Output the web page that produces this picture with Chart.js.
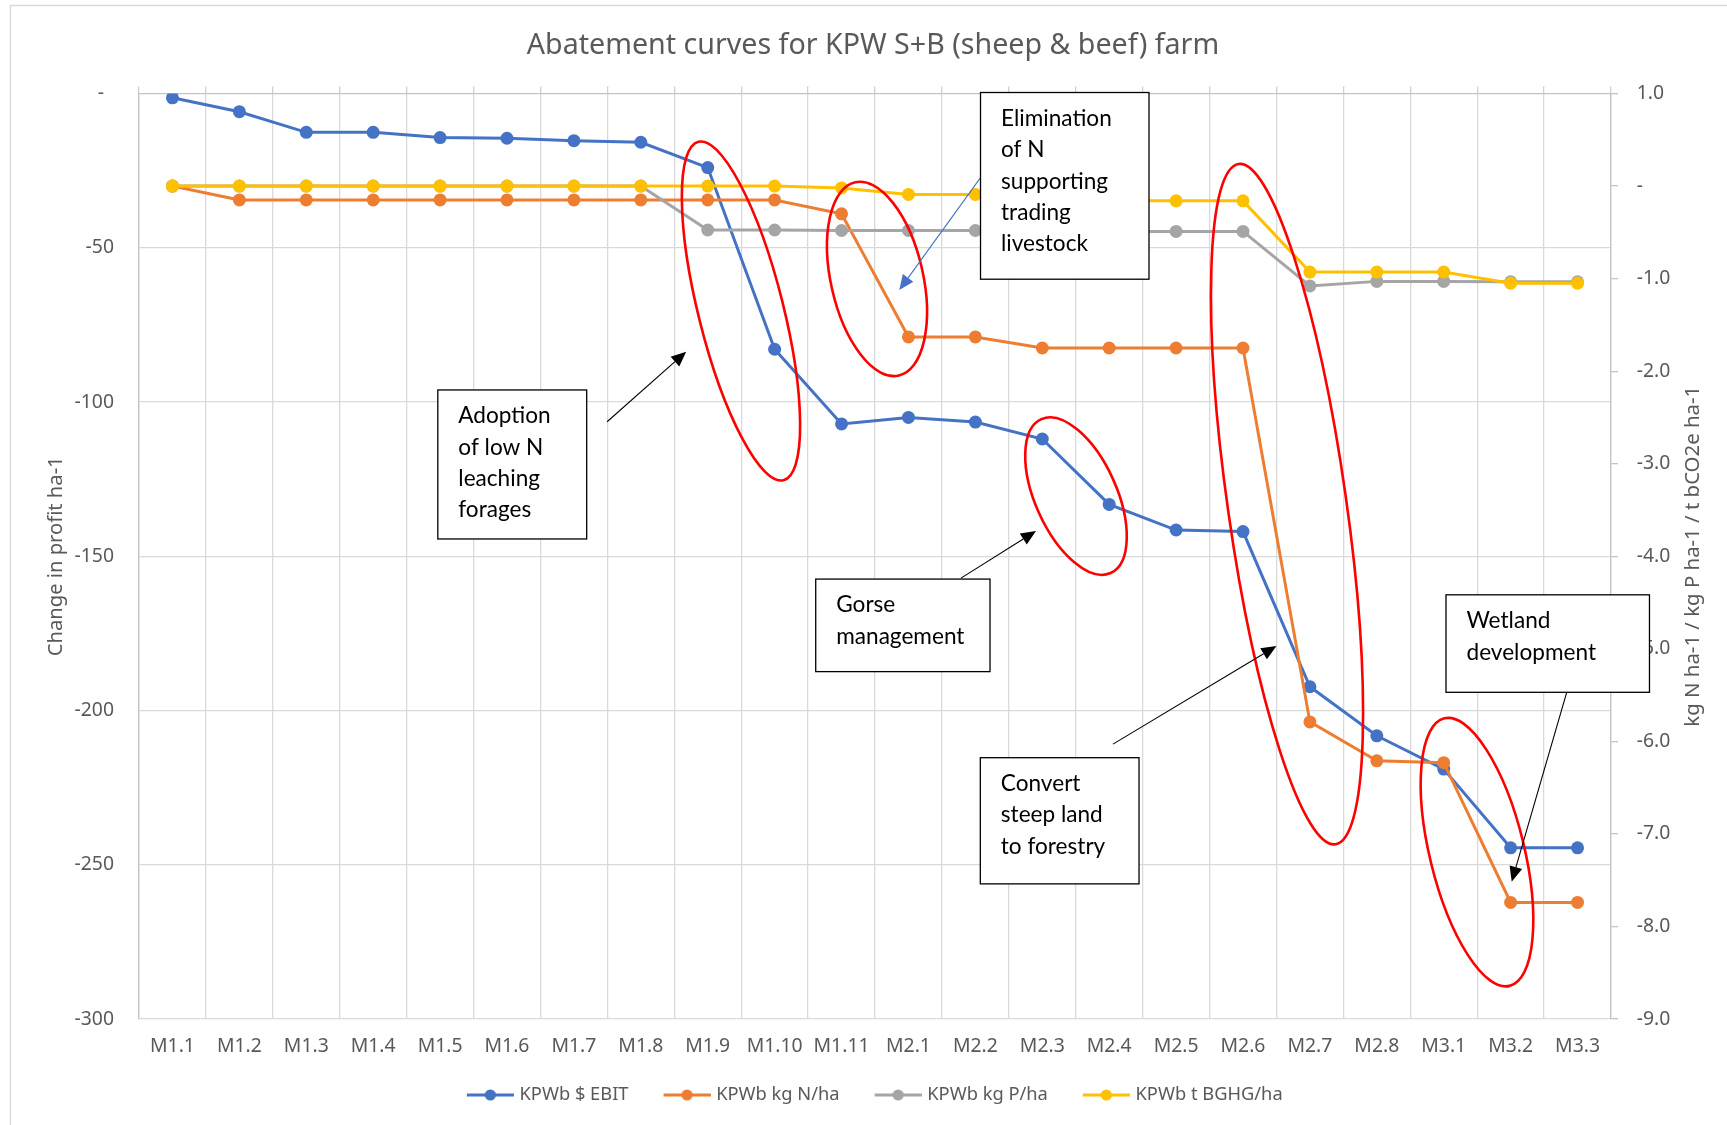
<!DOCTYPE html>
<html>
<head>
<meta charset="utf-8">
<script src="https://cdn.jsdelivr.net/npm/chart.js@4.4.1/dist/chart.umd.min.js"></script>
<style>
html,body{margin:0;padding:0;background:#ffffff;}
canvas{display:block;}
</style>
</head>
<body>
<canvas id="c" width="1727" height="1125"></canvas>
<script>
// ---------------- DATA ----------------
const categories = ['M1.1','M1.2','M1.3','M1.4','M1.5','M1.6','M1.7','M1.8','M1.9','M1.10','M1.11',
                    'M2.1','M2.2','M2.3','M2.4','M2.5','M2.6','M2.7','M2.8','M3.1','M3.2','M3.3'];
const ebit       = [-1.4, -5.9, -12.6, -12.6, -14.3, -14.5, -15.3, -15.8, -24.0, -82.9, -107.1,
                    -105.0, -106.5, -112.0, -133.2, -141.5, -142.0, -192.3, -208.2, -219.0, -244.5, -244.5];
const nitrogen   = [0, -0.15, -0.15, -0.15, -0.15, -0.15, -0.15, -0.15, -0.15, -0.15, -0.30,
                    -1.63, -1.63, -1.75, -1.75, -1.75, -1.75, -5.79, -6.21, -6.23, -7.74, -7.74];
const phosphorus = [0, 0, 0, 0, 0, 0, 0, 0, -0.475, -0.475, -0.48,
                    -0.48, -0.48, -0.49, -0.49, -0.49, -0.49, -1.08, -1.03, -1.03, -1.035, -1.035];
const ghg        = [0, 0, 0, 0, 0, 0, 0, 0, 0, 0, -0.02,
                    -0.09, -0.09, -0.12, -0.16, -0.16, -0.16, -0.93, -0.93, -0.93, -1.05, -1.05];
const seriesNames = ['KPWb $ EBIT', 'KPWb kg N/ha', 'KPWb kg P/ha', 'KPWb t BGHG/ha'];
const titleText = 'Abatement curves for KPW S+B (sheep & beef) farm';
const leftAxisTitle = 'Change in profit ha-1';
const rightAxisTitle = 'kg N ha-1 / kg P ha-1 / t bCO2e ha-1';
const leftTickLabel = v => (v === 0 ? '-  ' : String(v));
const rightTickLabel = v => (v === 0 ? '-' : v.toFixed(1));

// ---------------- ANNOTATIONS (positions in data units: category index, left-axis value) ----------------
const noteBoxes = [
  {lines: ['Adoption', 'of low N', 'leaching', 'forages'], from: [3.966, -96.1], to: [6.191, -144.4]},
  {lines: ['Elimination', 'of N', 'supporting', 'trading', 'livestock'], from: [12.077, 0.32], to: [14.595, -60.2]},
  {lines: ['Gorse', 'management'], from: [9.614, -157.4], to: [12.219, -187.4]},
  {lines: ['Convert', 'steep land', 'to forestry'], from: [12.074, -215.3], to: [14.446, -256.2]},
  {lines: ['Wetland', 'development'], from: [19.034, -162.5], to: [22.075, -194.1]}
];
const noteEllipses = [
  {at: [8.497, -70.5],  rx: 42.4, ry: 174.5, rot: -14.1},
  {at: [10.530, -60.1], rx: 46.1, ry: 99.1,  rot: -12.7},
  {at: [13.504, -130.5], rx: 40.7, ry: 84.4, rot: -24.25},
  {at: [16.658, -133.1], rx: 59.2, ry: 343.6, rot: -8.1},
  {at: [19.497, -245.9], rx: 47.2, ry: 137.7, rot: -13.7}
];
const noteArrows = [
  {from: [6.496, -106.4], to: [7.678, -83.7], color: '#000000'},
  {from: [12.080, -27.2], to: [10.863, -63.7], color: '#4472C4'},
  {from: [11.785, -157.1], to: [12.906, -141.8], color: '#000000'},
  {from: [14.057, -210.9], to: [16.5, -179.1], color: '#000000'},
  {from: [20.838, -194.1], to: [20.016, -255.5], color: '#000000'}
];

// ---------------- STYLE / FONT FITTING ----------------
const colors = ['#4472C4', '#ED7D31', '#A5A5A5', '#FFC000'];
const mctx = document.createElement('canvas').getContext('2d');
function fitSize(text, family, target) {
  mctx.font = '100px ' + family;
  return 100 * target / mctx.measureText(text).width;
}
const UI = '"Noto Sans"';
const tickFs = fitSize('M1.10', UI, 56);
const legendFs = fitSize(seriesNames.join(''), UI, 500.4);
const titleFs = fitSize(titleText, UI, 692.6);
const axisFs = fitSize(leftAxisTitle, UI, 200);
const axis2Fs = fitSize(rightAxisTitle, UI, 341);
const noteFs = fitSize('management', 'Lato', 128.3);

Chart.defaults.font.family = '"Noto Sans", sans-serif';
Chart.defaults.color = '#595959';

const titleLh = titleFs * 1.2;
const titlePadTop = 46 - titleLh / 2;
const titlePadBottom = 85.5 - titleLh - titlePadTop;
const legendPad = 31.5;
const bottomPad = 20 - legendFs / 2;
const xAxisH = 76 - legendPad - legendFs / 2;
const xTickPad = 1046.3 - 1019 - tickFs * 1.2 / 2;
const yTitlePad = 56 - 19 - axisFs * 1.2 / 2;

// legend icon geometry: line with centred marker, small gap before text, wider gap between items
const iconLine = 47, iconTextGap = 5.7, iconExtraGap = 3.5;
const legendBoxW = iconLine + iconTextGap + iconExtraGap - legendFs / 2;
const iconOver = Math.max(legendFs / 2 - iconTextGap, 0);
function legendIcon(color) {
  const c = document.createElement('canvas');
  c.width = Math.ceil(legendBoxW + 2 * iconOver); c.height = 14;
  const g = c.getContext('2d');
  const x0 = (c.width - legendBoxW) / 2 + iconExtraGap;
  g.strokeStyle = color; g.lineWidth = 3;
  g.beginPath(); g.moveTo(x0, 7); g.lineTo(x0 + iconLine, 7); g.stroke();
  g.fillStyle = color;
  g.beginPath(); g.arc(x0 + iconLine / 2, 7, 5.6, 0, Math.PI * 2); g.fill();
  return c;
}
const legendIcons = colors.map(legendIcon);

const framePlugin = {
  id: 'frame',
  beforeDraw(chart) {
    const ctx = chart.ctx;
    ctx.save();
    ctx.strokeStyle = '#d9d9d9';
    ctx.lineWidth = 1.3;
    ctx.beginPath();
    ctx.moveTo(10.5, chart.height + 5);
    ctx.lineTo(10.5, 5.5);
    ctx.lineTo(chart.width + 5, 5.5);
    ctx.stroke();
    ctx.restore();
  }
};

const notesPlugin = {
  id: 'notes',
  afterDraw(chart) {
    const ctx = chart.ctx;
    const xs = chart.scales.x, ys = chart.scales.y, ys2 = chart.scales.y2;
    const px = i => xs.getPixelForValue(i);
    const py = v => ys.getPixelForValue(v);
    ctx.save();
    // right axis title (reads bottom-to-top)
    ctx.fillStyle = '#595959';
    ctx.font = axis2Fs + 'px "Noto Sans"';
    ctx.textAlign = 'center';
    ctx.textBaseline = 'middle';
    ctx.translate(ys2.right - 33.5, (chart.chartArea.top + chart.chartArea.bottom) / 2);
    ctx.rotate(-Math.PI / 2);
    ctx.fillText(rightAxisTitle, 0, 0);
    ctx.restore();

    ctx.save();
    noteEllipses.forEach(e => {
      ctx.beginPath();
      ctx.ellipse(px(e.at[0]), py(e.at[1]), e.rx, e.ry, e.rot * Math.PI / 180, 0, Math.PI * 2);
      ctx.strokeStyle = '#FF0000';
      ctx.lineWidth = 2.6;
      ctx.stroke();
    });
    noteArrows.forEach(a => {
      const x1 = px(a.from[0]), y1 = py(a.from[1]), x2 = px(a.to[0]), y2 = py(a.to[1]);
      const ang = Math.atan2(y2 - y1, x2 - x1);
      const L = 15, W = 6.5;
      const bx = x2 - L * Math.cos(ang), by = y2 - L * Math.sin(ang);
      ctx.strokeStyle = a.color; ctx.lineWidth = 1.1;
      ctx.beginPath(); ctx.moveTo(x1, y1); ctx.lineTo(bx, by); ctx.stroke();
      ctx.fillStyle = a.color;
      ctx.beginPath();
      ctx.moveTo(x2, y2);
      ctx.lineTo(bx - W * Math.sin(ang), by + W * Math.cos(ang));
      ctx.lineTo(bx + W * Math.sin(ang), by - W * Math.cos(ang));
      ctx.closePath(); ctx.fill();
    });
    noteBoxes.forEach(n => {
      const x1 = px(n.from[0]), y1 = py(n.from[1]), x2 = px(n.to[0]), y2 = py(n.to[1]);
      ctx.fillStyle = '#ffffff';
      ctx.fillRect(x1, y1, x2 - x1, y2 - y1);
      ctx.strokeStyle = '#000000'; ctx.lineWidth = 1.3;
      ctx.strokeRect(x1, y1, x2 - x1, y2 - y1);
      ctx.fillStyle = '#000000';
      ctx.font = noteFs + 'px Lato';
      ctx.textAlign = 'left';
      ctx.textBaseline = 'middle';
      n.lines.forEach((t, k) => ctx.fillText(t, x1 + 20.5, y1 + 26 + k * 31.4));
    });
    ctx.restore();
  }
};

const series = [ebit, nitrogen, phosphorus, ghg];
const datasets = series.map((d, i) => ({
  label: seriesNames[i],
  data: d,
  xAxisID: 'x',
  yAxisID: i === 0 ? 'y' : 'y2',
  borderColor: colors[i],
  backgroundColor: colors[i],
  borderWidth: 3,
  pointRadius: 6.5,
  pointHoverRadius: 6.5,
  pointBorderWidth: 0,
  tension: 0,
  fill: false,
  order: 4 - i
}));

new Chart(document.getElementById('c'), {
  type: 'line',
  data: {labels: categories, datasets},
  options: {
    responsive: false,
    devicePixelRatio: 1,
    animation: false,
    events: [],
    layout: {padding: {left: 19, right: 0, top: 0, bottom: bottomPad}},
    plugins: {
      title: {
        display: true, text: titleText, color: '#595959',
        font: {size: titleFs, weight: 'normal'},
        padding: {top: titlePadTop, bottom: titlePadBottom}
      },
      legend: {
        position: 'bottom',
        labels: {
          usePointStyle: true, pointStyleWidth: legendBoxW, padding: legendPad,
          color: '#595959', font: {size: legendFs},
          generateLabels: chart => Chart.defaults.plugins.legend.labels.generateLabels(chart)
            .map(l => Object.assign(l, {pointStyle: legendIcons[l.datasetIndex]})),
          sort: (a, b) => a.datasetIndex - b.datasetIndex
        }
      },
      tooltip: {enabled: false}
    },
    scales: {
      x: {
        type: 'category', position: 'bottom', offset: true,
        grid: {offset: true, color: '#d9d9d9', lineWidth: 1.3, drawTicks: false},
        border: {display: false},
        ticks: {color: '#595959', font: {size: tickFs}, padding: xTickPad, maxRotation: 0, autoSkip: false},
        afterFit: s => { s.height = xAxisH; }
      },
      x2: {
        type: 'category', position: 'top', offset: true,
        grid: {offset: true, drawOnChartArea: false, drawTicks: true, tickLength: 7, color: '#cfcfcf', lineWidth: 1.3},
        border: {display: false},
        ticks: {display: false},
        afterFit: s => { s.height = 8; }
      },
      y: {
        position: 'left', min: -300, max: 0,
        ticks: {stepSize: 50, color: '#595959', font: {size: tickFs}, padding: 25, callback: leftTickLabel},
        grid: {drawTicks: false, lineWidth: 1.3, color: c => (c.tick && c.tick.value === 0 ? '#c4c4c4' : '#d9d9d9')},
        border: {display: true, color: '#c4c4c4', width: 1.3},
        title: {display: true, text: leftAxisTitle, color: '#595959', font: {size: axisFs}, padding: {top: yTitlePad, bottom: 0}},
        afterFit: s => { s.width = 120; }
      },
      y2: {
        position: 'right', min: -9, max: 1,
        ticks: {stepSize: 1, color: '#595959', font: {size: tickFs}, padding: 18.7, callback: rightTickLabel},
        grid: {drawOnChartArea: false, drawTicks: true, tickLength: 7, color: '#c4c4c4', lineWidth: 1.3},
        border: {display: true, color: '#c4c4c4', width: 1.3},
        afterFit: s => { s.width = 116; }
      }
    }
  },
  plugins: [framePlugin, notesPlugin]
});
</script>
</body>
</html>
